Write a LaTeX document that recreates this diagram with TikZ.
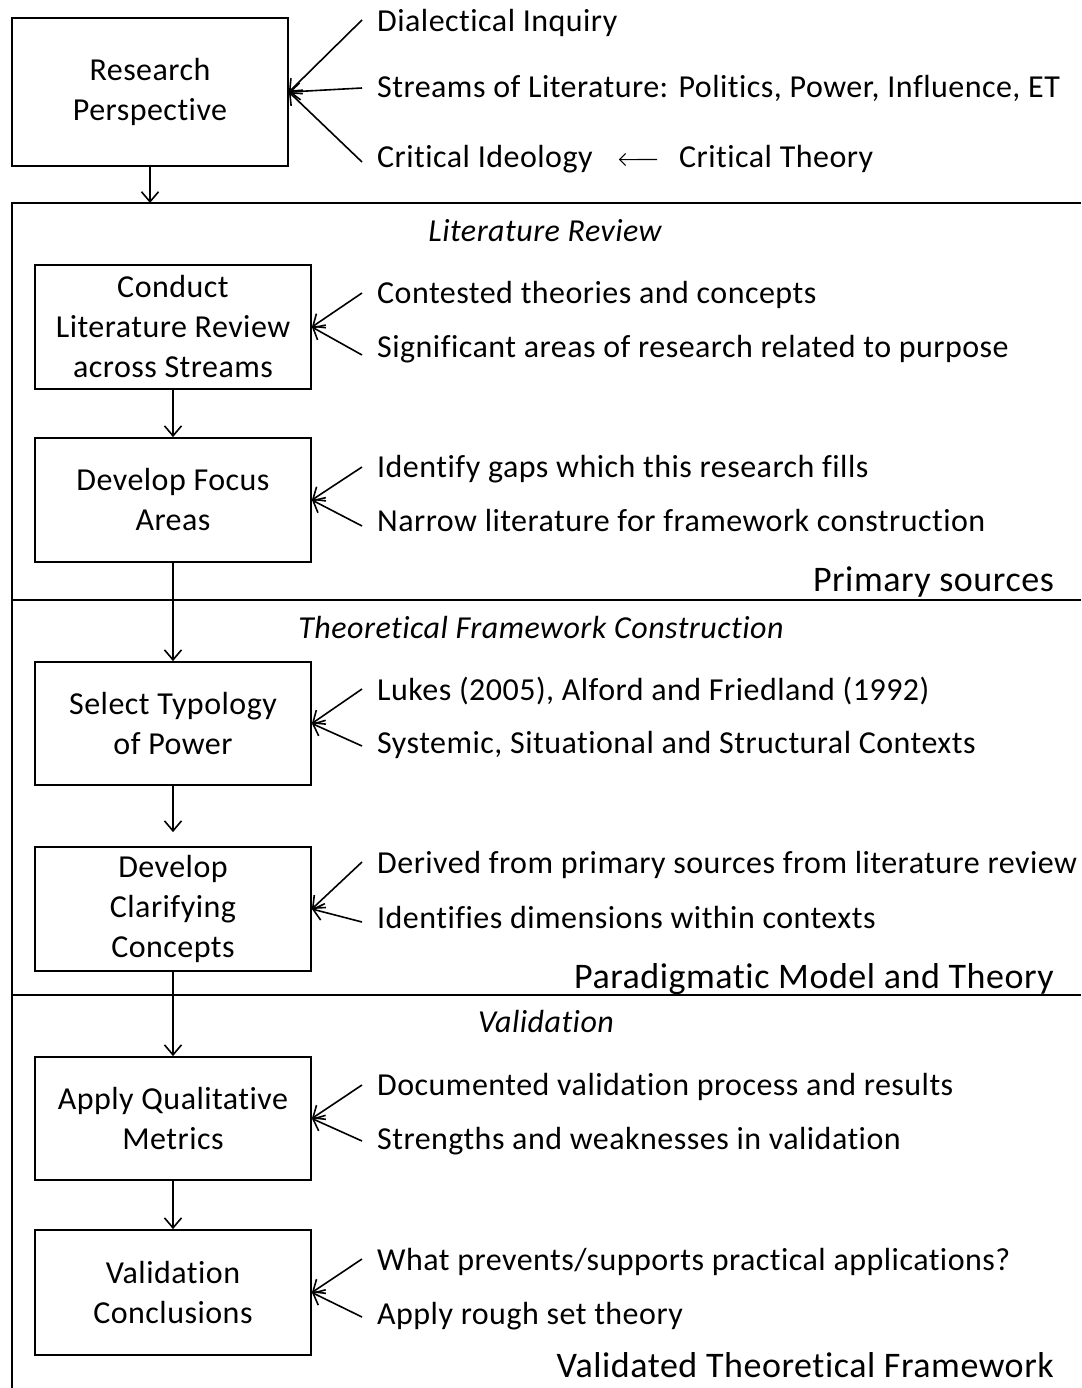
\documentclass[tikz,border=0pt]{standalone}
\usepackage{fontspec}
\setmainfont{Carlito}[LetterSpace=1.5, Ligatures=NoCommon]
\usetikzlibrary{arrows.meta}
\begin{document}
\begin{tikzpicture}[x=1pt,y=-1pt,
  every node/.style={font=\fontsize{32}{40}\selectfont},
  stagebox/.style={draw, line width=1.8pt, minimum width=276pt, minimum height=124pt, align=center, inner sep=0pt},
  lbl/.style={anchor=base west, inner sep=0pt},
  head/.style={anchor=base, inner sep=0pt, font=\fontsize{32}{40}\selectfont\itshape},
  phase/.style={anchor=base east, inner sep=0pt, font=\fontsize{36}{40}\selectfont},
  arr/.style={-{Straight Barb[length=10pt,width=17pt]}, line width=1.6pt},
  minorarr/.style={-{Straight Barb[length=6pt,width=12pt]}, line width=1.1pt},
  frame/.style={line width=1.8pt}]
\useasboundingbox (0,0) rectangle (1081,1388);
\fill[white] (0,0) rectangle (1081,1388);

% phase frame: left rule and three horizontal dividers
\draw[frame] (12,1388) -- (12,203) -- (1081,203);
\draw[frame] (12,600) -- (1081,600);
\draw[frame] (12,995) -- (1081,995);
\coordinate (ftop) at (150,203);

% process boxes
\node[stagebox, minimum height=148pt] (rp) at (150,92) {Research\\Perspective};
\node[stagebox] (cl) at (173,327) {Conduct\\Literature Review\\across Streams};
\node[stagebox] (fa) at (173,500) {Develop Focus\\Areas};
\node[stagebox, minimum height=123pt] (st) at (173,723.5) {Select Typology\\of Power};
\node[stagebox] (cc) at (173,909) {Develop\\Clarifying\\Concepts};
\node[stagebox, minimum height=123pt] (aq) at (173,1118.5) {Apply Qualitative\\Metrics};
\node[stagebox, minimum height=125pt] (vc) at (173,1292.5) {Validation\\Conclusions};

% phase headings
\node[head] (h1) at (545,241) {Literature Review};
\node[head] (h2) at (541,638) {Theoretical Framework Construction};
\node[head] (h3) at (546,1032) {Validation};

% phase outcomes
\node[phase] (p1) at (1054,591) {Primary sources};
\node[phase] (p2) at (1054,988) {Paradigmatic Model and Theory};
\node[phase] (p3) at (1054,1377) {Validated Theoretical Framework};

% inputs to the research perspective
\node[lbl] (di) at (377,32) {Dialectical Inquiry};
\node[lbl] (sl) at (377,98) {Streams of Literature: Politics, Power, Influence, ET};
\node[lbl] (ci) at (377,168) {Critical Ideology};
\node[lbl] (ct) at (679,168) {Critical Theory};
\draw[minorarr, shorten <=22pt, shorten >=26pt] (ct.west) -- (ci.east);
\coordinate (a1) at (362,20);
\coordinate (a2) at (362,88);
\coordinate (a3) at (362,162);
\foreach \c in {a1,a2,a3} \draw[arr] (\c) -- (rp.east);

% inputs to each step
\node[lbl] (l1) at (377,303) {Contested theories and concepts};
\node[lbl] (l2) at (377,357) {Significant areas of research related to purpose};
\node[lbl] (l3) at (377,477) {Identify gaps which this research fills};
\node[lbl] (l4) at (377,531) {Narrow literature for framework construction};
\node[lbl] (l5) at (377,700) {Lukes (2005), Alford and Friedland (1992)};
\node[lbl] (l6) at (377,753) {Systemic, Situational and Structural Contexts};
\node[lbl] (l7) at (377,873) {Derived from primary sources from literature review};
\node[lbl] (l8) at (377,928) {Identifies dimensions within contexts};
\node[lbl] (l9) at (377,1095) {Documented validation process and results};
\node[lbl] (l10) at (377,1149) {Strengths and weaknesses in validation};
\node[lbl] (l11) at (377,1270) {What prevents/supports practical applications?};
\node[lbl] (l12) at (377,1324) {Apply rough set theory};

\coordinate (b1) at (362,293);  \coordinate (b2) at (362,355);
\coordinate (b3) at (362,467);  \coordinate (b4) at (362,526);
\coordinate (b5) at (362,689);  \coordinate (b6) at (362,746);
\coordinate (b7) at (362,862);  \coordinate (b8) at (362,922);
\coordinate (b9) at (362,1085); \coordinate (b10) at (362,1141);
\coordinate (b11) at (362,1259);\coordinate (b12) at (362,1317);
\draw[arr] (b1) -- (cl.east); \draw[arr] (b2) -- (cl.east);
\draw[arr] (b3) -- (fa.east); \draw[arr] (b4) -- (fa.east);
\draw[arr] (b5) -- (st.east); \draw[arr] (b6) -- (st.east);
\draw[arr] (b7) -- (cc.east); \draw[arr] (b8) -- (cc.east);
\draw[arr] (b9) -- (aq.east); \draw[arr] (b10) -- (aq.east);
\draw[arr] (b11) -- (vc.east); \draw[arr] (b12) -- (vc.east);

% flow between steps
\draw[arr] (rp) -- (ftop);
\draw[arr] (cl) -- (fa);
\draw[arr] (fa) -- (st);
\draw[arr, shorten >=14pt] (st) -- (cc);
\draw[arr] (cc) -- (aq);
\draw[arr] (aq) -- (vc);
\end{tikzpicture}
\end{document}
